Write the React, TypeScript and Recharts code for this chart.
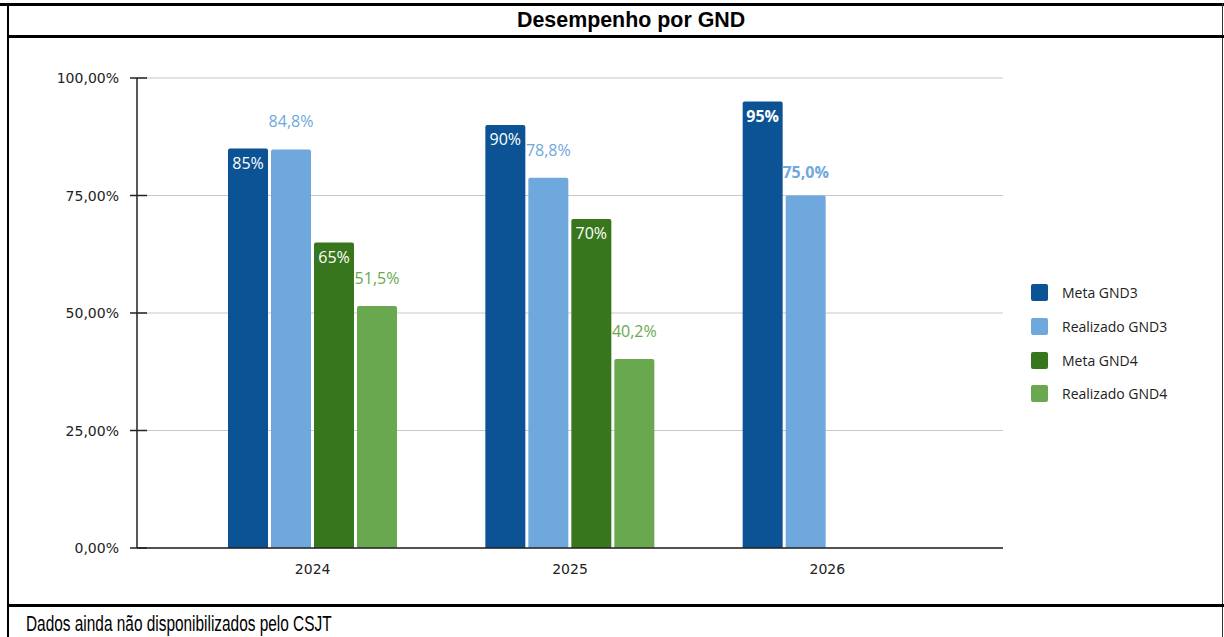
import React from 'react';
import { BarChart, Bar, XAxis, YAxis, CartesianGrid, LabelList } from 'recharts';

const years = ['2024', '2025', '2026'];
const metaGnd3 = [85, 90, 95];
const realizadoGnd3 = [84.8, 78.8, 75.0];
const metaGnd4 = [65, 70, null];
const realizadoGnd4 = [51.5, 40.2, null];
const yTicks = [0, 25, 50, 75, 100];

const series = [
  { key: 'metaGnd3', name: 'Meta GND3', color: '#0b5394', kind: 'meta' },
  { key: 'realizadoGnd3', name: 'Realizado GND3', color: '#6fa8dc', kind: 'real' },
  { key: 'metaGnd4', name: 'Meta GND4', color: '#38761d', kind: 'meta' },
  { key: 'realizadoGnd4', name: 'Realizado GND4', color: '#6aa84f', kind: 'real' },
];

const data = years.map((year, i) => ({
  year,
  metaGnd3: metaGnd3[i],
  realizadoGnd3: realizadoGnd3[i],
  metaGnd4: metaGnd4[i],
  realizadoGnd4: realizadoGnd4[i],
}));

const labelFont = '"Open Sans", "Noto Sans", sans-serif';
const axisFont = '"DejaVu Sans", sans-serif';

const YTick = (props: any) => {
  const { x, y, payload } = props;
  return (
    <g>
      <line x1={x - 7} x2={x + 10} y1={y} y2={y} stroke="#222" strokeWidth={1.5} />
      <text x={x - 18} y={y} textAnchor="end" dominantBaseline="central" fontSize={14} fill="#222" fontFamily={axisFont}>
        {payload.value.toFixed(2).replace('.', ',') + '%'}
      </text>
    </g>
  );
};

const metaLabel = (props: any) => {
  const { x, y, width, value, index } = props;
  if (value == null) return null;
  return (
    <text x={x + width / 2} y={y + 14} textAnchor="middle" dominantBaseline="central" fontSize={16}
      fill="#fff" fontFamily={labelFont} fontWeight={index === 2 ? 700 : 400}>
      {value + '%'}
    </text>
  );
};

const realLabel = (color: string) => (props: any) => {
  const { x, y, width, value, index } = props;
  if (value == null) return null;
  return (
    <text x={x + width / 2} y={y - (index === 2 ? 24 : 28)} textAnchor="middle" dominantBaseline="central" fontSize={16}
      fill={color} fontFamily={labelFont} fontWeight={index === 2 ? 700 : 400}>
      {value.toFixed(1).replace('.', ',') + '%'}
    </text>
  );
};

export default function App() {
  return (
    <div style={{ position: 'absolute', left: 0, top: 0, width: 1224, height: 637, background: '#fff', overflow: 'hidden' }}>
      {/* frame */}
      <div style={{ position: 'absolute', left: 0, top: 3, width: 1224, height: 3, background: '#000' }} />
      <div style={{ position: 'absolute', left: 7, top: 3, width: 2, height: 634, background: '#000' }} />
      <div style={{ position: 'absolute', left: 1222, top: 3, width: 1, height: 634, background: '#333' }} />
      <div style={{ position: 'absolute', left: 7, top: 35, width: 1217, height: 3, background: '#000' }} />
      <div style={{ position: 'absolute', left: 7, top: 604, width: 1217, height: 3, background: '#000' }} />

      <div style={{ position: 'absolute', left: 517, top: 6, height: 29, display: 'flex', alignItems: 'center', whiteSpace: 'nowrap',
        fontFamily: '"Liberation Sans", Arial, sans-serif', fontWeight: 700, fontSize: 21.4, color: '#000' }}>
        Desempenho por GND
      </div>

      <div style={{ position: 'absolute', left: 26, top: 609, height: 30, display: 'flex', alignItems: 'center', whiteSpace: 'nowrap',
        transform: 'scaleX(0.70)', transformOrigin: 'left center',
        fontFamily: '"Liberation Sans", Arial, sans-serif', fontSize: 22, color: '#000' }}>
        Dados ainda não disponibilizados pelo CSJT
      </div>

      <div style={{ position: 'absolute', left: 8, top: 37 }}>
        <BarChart width={1214} height={568} data={data} margin={{ top: 41, right: 219, bottom: 27, left: 0 }}
          barSize={40} barGap={3}>
          <CartesianGrid vertical={false} stroke="#c8c8c8" strokeWidth={1} />
          <XAxis dataKey="year" padding={{ left: 47, right: 47 }} tickLine={false} tickMargin={10} height={30}
            axisLine={{ stroke: '#222', strokeWidth: 1.5 }}
            tick={{ fontSize: 14, fill: '#222', fontFamily: axisFont }} />
          <YAxis width={129} domain={[0, 100]} ticks={yTicks} tickLine={false} tickSize={0} tickMargin={0}
            axisLine={{ stroke: '#222', strokeWidth: 1.5 }} tick={<YTick />} />
          {series.map((s) => (
            <Bar key={s.key} dataKey={s.key} name={s.name} fill={s.color} radius={[2, 2, 0, 0]} isAnimationActive={false}>
              <LabelList dataKey={s.key} content={s.kind === 'meta' ? metaLabel : realLabel(s.color)} />
            </Bar>
          ))}
        </BarChart>
      </div>

      {/* legend */}
      <div style={{ position: 'absolute', left: 1031, top: 276 }}>
        {series.map((s) => (
          <div key={s.key} style={{ display: 'flex', alignItems: 'center', height: 33.7 }}>
            <div style={{ width: 17, height: 17, background: s.color, borderRadius: 2 }} />
            <span style={{ marginLeft: 14, fontSize: 14, color: '#222', fontFamily: labelFont }}>{s.name}</span>
          </div>
        ))}
      </div>
    </div>
  );
}
